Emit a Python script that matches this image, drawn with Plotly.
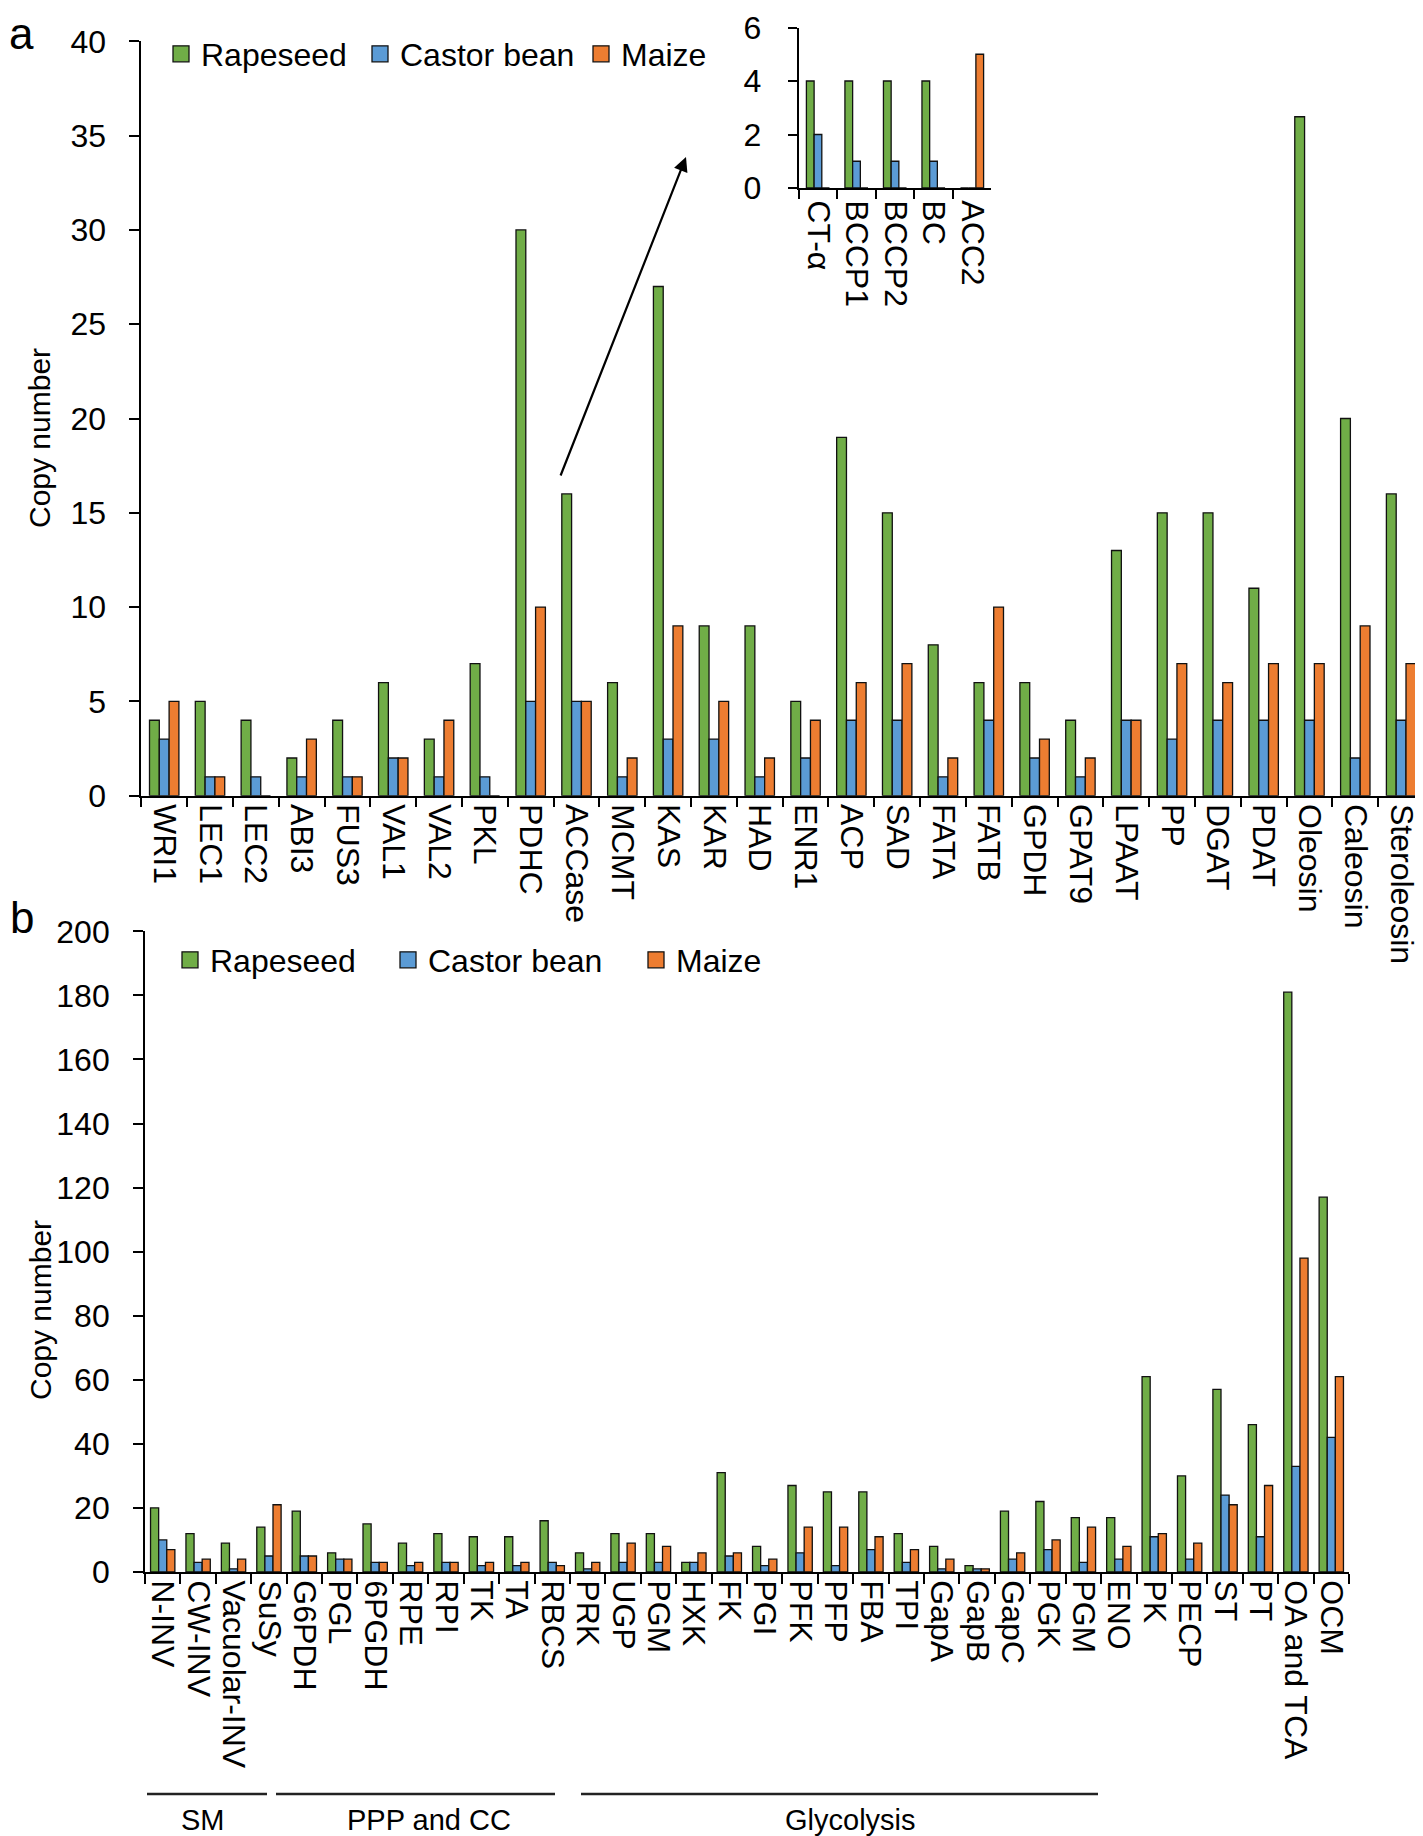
import plotly.graph_objects as go

W, H = 1423, 1836

# ---------------- data ----------------
series_names = ["Rapeseed", "Castor bean", "Maize"]
colors = ["#70AD47", "#5B9BD5", "#ED7D31"]

cats_a = ["WRI1", "LEC1", "LEC2", "ABI3", "FUS3", "VAL1", "VAL2", "PKL", "PDHC",
          "ACCase", "MCMT", "KAS", "KAR", "HAD", "ENR1", "ACP", "SAD", "FATA",
          "FATB", "GPDH", "GPAT9", "LPAAT", "PP", "DGAT", "PDAT", "Oleosin",
          "Caleosin", "Steroleosin"]
rape_a = [4, 5, 4, 2, 4, 6, 3, 7, 30, 16, 6, 27, 9, 9, 5, 19, 15, 8, 6, 6, 4, 13,
          15, 15, 11, 36, 20, 16]
castor_a = [3, 1, 1, 1, 1, 2, 1, 1, 5, 5, 1, 3, 3, 1, 2, 4, 4, 1, 4, 2, 1, 4, 3,
            4, 4, 4, 2, 4]
maize_a = [5, 1, 0, 3, 1, 2, 4, 0, 10, 5, 2, 9, 5, 2, 4, 6, 7, 2, 10, 3, 2, 4, 7,
           6, 7, 7, 9, 7]

cats_in = ["CT-α", "BCCP1", "BCCP2", "BC", "ACC2"]
rape_in = [4, 4, 4, 4, 0]
castor_in = [2, 1, 1, 1, 0]
maize_in = [0, 0, 0, 0, 5]

cats_b = ["N-INV", "CW-INV", "Vacuolar-INV", "SuSy", "G6PDH", "PGL", "6PGDH",
          "RPE", "RPI", "TK", "TA", "RBCS", "PRK", "UGP", "PGM", "HXK", "FK",
          "PGI", "PFK", "PFP", "FBA", "TPI", "GapA", "GapB", "GapC", "PGK",
          "PGM", "ENO", "PK", "PECP", "ST", "PT", "OA and TCA", "OCM"]
rape_b = [20, 12, 9, 14, 19, 6, 15, 9, 12, 11, 11, 16, 6, 12, 12, 3, 31, 8, 27,
          25, 25, 12, 8, 2, 19, 22, 17, 17, 61, 30, 57, 46, 181, 117]
castor_b = [10, 3, 1, 5, 5, 4, 3, 2, 3, 2, 2, 3, 1, 3, 3, 3, 5, 2, 6, 2, 7, 3,
            1, 1, 4, 7, 3, 4, 11, 4, 24, 11, 33, 42]
maize_b = [7, 4, 4, 21, 5, 4, 3, 3, 3, 3, 3, 2, 3, 9, 8, 6, 6, 4, 14, 14, 11, 7,
           4, 1, 6, 10, 14, 8, 12, 9, 21, 27, 98, 61]

groups_b = ["SM", "PPP and CC", "Glycolysis"]


def unique_keys(labels):
    seen, out = set(), []
    for lab in labels:
        k = lab
        while k in seen:
            k += " "
        seen.add(k)
        out.append(k)
    return out


keys_b = unique_keys(cats_b)

FONT = "Liberation Sans, Arial, Helvetica, sans-serif"
fig = go.Figure()


def add_group(xkeys, vals_list, xa, ya, bw):
    for i, (vals, name, col) in enumerate(zip(vals_list, series_names, colors)):
        fig.add_trace(go.Bar(
            x=xkeys, y=vals, name=name, xaxis=xa, yaxis=ya,
            width=bw, offset=(i - 1.5) * bw,
            marker=dict(color=col, line=dict(color="#111111", width=1.3)),
            showlegend=False, hoverinfo="x+y+name"))


add_group(cats_a, [rape_a, castor_a, maize_a], "x", "y", 0.214)
add_group(cats_in, [rape_in, castor_in, maize_in], "x2", "y2", 0.2)
add_group(keys_b, [rape_b, castor_b, maize_b], "x3", "y3", 0.229)

# legend-only entries (one legend per entry for exact placement)
leg_specs = [
    ("legend", 0, "x", "y", 153, 46),
    ("legend2", 1, "x", "y", 352, 46),
    ("legend3", 2, "x", "y", 573, 46),
    ("legend4", 0, "x3", "y3", 162, 952),
    ("legend5", 1, "x3", "y3", 380, 952),
    ("legend6", 2, "x3", "y3", 628, 952),
]
leg_layout = {}
for lg, si, xa, ya, px, py in leg_specs:
    fig.add_trace(go.Scatter(
        x=[None], y=[None], mode="markers", name=series_names[si],
        xaxis=xa, yaxis=ya, legend=lg,
        marker=dict(symbol="square", size=17, color=colors[si],
                    line=dict(color="#111111", width=1.3))))
    leg_layout[lg] = dict(
        x=px / W, y=1 - py / H, xanchor="left", yanchor="middle",
        orientation="h", bgcolor="rgba(0,0,0,0)", borderwidth=0,
        font=dict(size=32, family=FONT, color="black"),
        itemclick=False, itemdoubleclick=False)

axis_common = dict(showline=True, linecolor="black", linewidth=1.8,
                   ticks="outside", tickcolor="black", tickwidth=1.8,
                   showgrid=False, zeroline=False, automargin=False,
                   fixedrange=True)
xcat = dict(type="category", tickson="boundaries", tickmode="linear",
            tick0=0, dtick=1, tickangle=90, tickfont=dict(size=32),
            ticklabeloverflow="allow")
ylin = dict(tickfont=dict(size=32), ticklabeloverflow="allow")

fig.update_layout(
    width=W, height=H,
    margin=dict(l=0, r=0, t=0, b=0),
    paper_bgcolor="white", plot_bgcolor="rgba(0,0,0,0)",
    font=dict(family=FONT, color="black", size=30),
    barmode="group",
    xaxis=dict(axis_common, **xcat, domain=[133.3 / W, 1416 / W], anchor="y",
               ticklen=9, range=[-0.5, len(cats_a) - 0.5]),
    yaxis=dict(axis_common, **ylin, domain=[1 - 787.7 / H, 1 - 33.3 / H],
               anchor="x", range=[0, 40], dtick=5, ticklen=10,
               ticklabelstandoff=17),
    xaxis2=dict(axis_common, **xcat, domain=[790.7 / W, 983.3 / W],
                anchor="y2", ticklen=9, ticklabelstandoff=4,
                range=[-0.5, len(cats_in) - 0.5]),
    yaxis2=dict(axis_common, **ylin, domain=[1 - 180 / H, 1 - 19.5 / H],
                anchor="x2", range=[0, 6], dtick=2, ticklen=9,
                ticklabelstandoff=20),
    xaxis3=dict(axis_common, **xcat, domain=[137 / W, 1341 / W], anchor="y3",
                ticklen=10, range=[-0.5, len(cats_b) - 0.5]),
    yaxis3=dict(axis_common, **ylin, domain=[1 - 1564 / H, 1 - 923.3 / H],
                anchor="x3", range=[0, 200], dtick=20, ticklen=10,
                ticklabelstandoff=17),
    **leg_layout,
)

ann = []
# panel letters
ann.append(dict(text="a", x=0, y=1, xref="paper", yref="paper",
                xanchor="left", yanchor="top", showarrow=False, borderpad=0,
                font=dict(size=44)))
ann.append(dict(text="b", x=0, y=1 - 909 / H, xref="paper", yref="paper",
                xanchor="left", yanchor="middle", showarrow=False,
                font=dict(size=44)))
# axis titles
for yc in (430, 1302):
    ann.append(dict(text="Copy number", x=32 / W, y=1 - yc / H, xref="paper",
                    yref="paper", xanchor="center", yanchor="middle",
                    textangle=-90, showarrow=False, font=dict(size=30)))
# arrow from ACCase to inset
ann.append(dict(text="", x=678 / W, y=1 - 149 / H, xref="paper", yref="paper",
                ax=-126, ay=320, showarrow=True, arrowhead=2, arrowsize=1.3,
                arrowwidth=2.2, arrowcolor="black"))
# group labels for panel b
group_pos = [(195, 139, 259), (421, 268, 547), (842, 573, 1090)]
shapes = []
for g, (xc, x0, x1) in zip(groups_b, group_pos):
    ann.append(dict(text=g, x=xc / W, y=1 - 1812 / H, xref="paper",
                    yref="paper", xanchor="center", yanchor="middle",
                    showarrow=False, font=dict(size=29)))
    shapes.append(dict(type="line", xref="paper", yref="paper",
                       x0=x0 / W, x1=x1 / W, y0=1 - 1786 / H, y1=1 - 1786 / H,
                       line=dict(color="#222222", width=2.5)))

fig.update_layout(annotations=ann, shapes=shapes)

fig.write_html("out.html")
